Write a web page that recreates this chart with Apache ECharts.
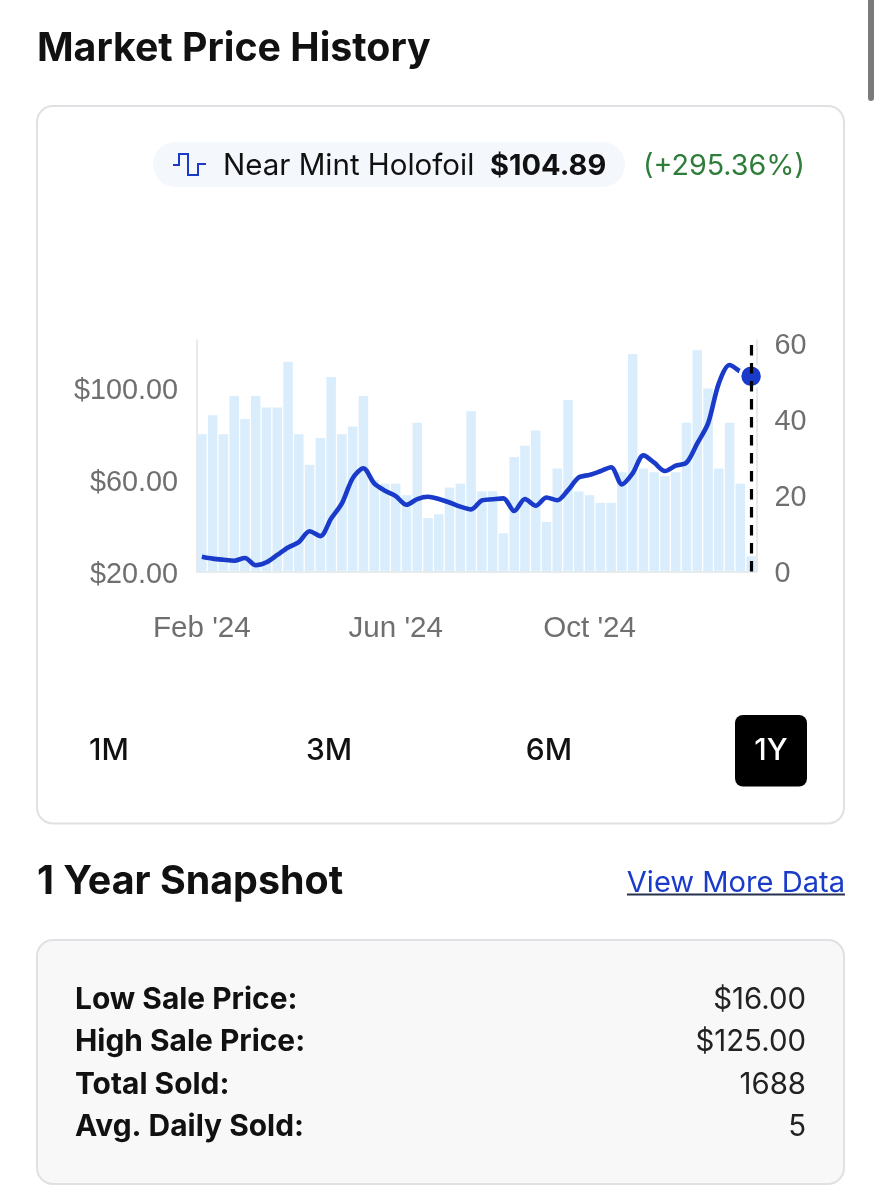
<!DOCTYPE html>
<html>
<head>
<meta charset="utf-8">
<style>html,body{margin:0;padding:0;background:#fff}#c{width:881px;height:1200px}</style>
<script src="https://cdn.jsdelivr.net/npm/echarts@6/dist/echarts.min.js"></script>
</head>
<body>
<div id="c"></div>
<script>
const weeks = [
"Feb '24","Feb '24","Feb '24","Feb '24","Feb '24","Mar '24","Mar '24","Mar '24","Mar '24",
"Apr '24","Apr '24","Apr '24","Apr '24","May '24","May '24","May '24","May '24","May '24",
"Jun '24","Jun '24","Jun '24","Jun '24","Jul '24","Jul '24","Jul '24","Jul '24",
"Aug '24","Aug '24","Aug '24","Aug '24","Aug '24","Sep '24","Sep '24","Sep '24","Sep '24","Oct '24",
"Oct '24","Oct '24","Oct '24","Oct '24","Nov '24","Nov '24","Nov '24","Nov '24",
"Dec '24","Dec '24","Dec '24","Dec '24","Jan '25","Jan '25","Jan '25","Jan '25"];
const sold = [36,41,36,46,40,46,43,43,55,36,28,35,51,36,38,46,24,23,23,20,39,14,15,22,23,42,
21,21,10,30,33,37,13,27,45,21,20,18,18,26,57,27,26,25,26,39,58,48,27,39,23,4];
const price = [26.4,25.6,25.1,24.7,25.9,22.7,24,27.2,30.4,32.8,37.5,35.4,43,49.6,60.5,64.9,58.3,55.1,52.8,49,51.5,52.5,51.5,50,48.2,47,
50.9,51.4,51.8,46.3,51.5,48.6,52.2,51,55.4,60.9,62,63.6,65.3,57.9,62.7,70.5,67.3,63.7,66,67.3,75.7,84.4,101.8,109.8,107,104.89];
const priceTicks = [20,60,100];
const soldTicks = [0,20,40,60];
const periods = ["1M","3M","6M","1Y"];
const statLabels = ["Low Sale Price:","High Sale Price:","Total Sold:","Avg. Daily Sold:"];
const statValues = ["$16.00","$125.00","1688","5"];

const UI = "Inter, 'Liberation Sans', sans-serif";
const AX = "'Liberation Sans', Arial, sans-serif";
const BLUE = "#1a3bc9", INK = "#111111", AXC = "#6f6f6f", EDGE = "#e1e1e5";
const lastIdx = price.length - 1;

function txt(x, y, text, size, weight, fill, align) {
  return {type:'text', x, y, silent:true, z:5, style:{text, fontFamily:UI, fontSize:size, fontWeight:weight, fill, align:align||'left', verticalAlign:'middle'}};
}
const graphics = [
  {type:'rect', shape:{x:868,y:-6,width:6,height:107,r:3}, style:{fill:'#7b7b7b'}},
  {type:'rect', z:-1, shape:{x:37,y:106,width:807,height:717.5,r:16}, style:{fill:'#fff',stroke:EDGE,lineWidth:2}},
  {type:'rect', z:-1, shape:{x:37,y:940,width:807,height:244,r:16}, style:{fill:'#f8f8f9',stroke:EDGE,lineWidth:2}},
  {type:'rect', z:-1, shape:{x:153,y:142,width:472,height:45,r:22.5}, style:{fill:'#f4f8fd'}},
  {type:'polyline', shape:{points:[[173,165],[179,165],[179,154],[188,154],[188,175],[198,175],[198,164],[206,164]]}, style:{stroke:BLUE,lineWidth:2,fill:null}},
  txt(37,49.5,"Market Price History",39.3,700,INK),
  txt(223,166,"Near Mint Holofoil",29.5,400,INK),
  txt(490,166,"$104.89",29,700,INK),
  txt(805,166,"(+295.36%)",28.7,400,'#2f7d3b','right'),
  {type:'rect', shape:{x:735,y:715,width:72,height:71.5,r:8}, style:{fill:'#000'}},
  txt(37,882,"1 Year Snapshot",39.4,700,INK),
  txt(845,883,"View More Data",29.1,400,BLUE,'right'),
  {type:'rect', shape:{x:627,y:893.5,width:218,height:2}, style:{fill:'#26304f'}}
];
[109,329,549,771].forEach((x,i)=>graphics.push(txt(x,751,periods[i],30,500,i===3?'#fff':INK,'center')));
[1000,1042,1085,1127].forEach((y,i)=>{
  graphics.push(txt(75,y,statLabels[i],29.9,700,INK));
  graphics.push(txt(806,y,statValues[i],29.4,400,'#222','right'));
});

const chart = echarts.init(document.getElementById('c'));
chart.setOption({
  animation:false,
  backgroundColor:'#fff',
  graphic:graphics,
  grid:{left:196.5,right:124.5,top:340,bottom:628.5,containLabel:false},
  xAxis:{type:'category',data:weeks,boundaryGap:true,
    axisLine:{show:true,lineStyle:{color:'#e3e3e3',width:1.5}},
    axisTick:{show:false},splitLine:{show:false},
    axisLabel:{interval:17,margin:42,fontFamily:AX,fontSize:29.6,color:AXC,hideOverlap:false}},
  yAxis:[
    {type:'value',position:'left',min:20,max:120.65,splitLine:{show:false},axisTick:{show:false},
     axisLine:{show:true,onZero:false,lineStyle:{color:'#e3e3e3',width:1.5}},
     axisLabel:{customValues:priceTicks,margin:18.5,fontFamily:AX,fontSize:28.8,color:AXC,verticalAlign:'top',lineHeight:7,formatter:v=>'$'+v.toFixed(2)}},
    {type:'value',position:'right',min:0,max:60.7,splitLine:{show:false},axisTick:{show:false},
     axisLine:{show:true,onZero:false,lineStyle:{color:'#e3e3e3',width:1.5}},
     axisLabel:{customValues:soldTicks,margin:18,fontFamily:AX,fontSize:28.8,color:AXC,verticalAlign:'top',lineHeight:6}}
  ],
  series:[
    {type:'bar',name:'Sold',yAxisIndex:1,data:sold,barCategoryGap:'12%',itemStyle:{color:'#d9edfc'},z:1,silent:true},
    {type:'line',name:'Near Mint Holofoil',yAxisIndex:0,data:price,smooth:0.3,showSymbol:false,lineStyle:{color:BLUE,width:4.6},z:2,silent:true},
    {type:'scatter',name:'Latest',yAxisIndex:0,data:[[lastIdx,price[lastIdx]]],symbolSize:22.5,
     itemStyle:{color:BLUE,borderColor:'#fff',borderWidth:3,opacity:1},z:3,silent:true,
     markLine:{silent:true,symbol:'none',label:{show:false},z:4,
       lineStyle:{color:'#000',type:[10.5,7.5],width:3.2,opacity:1},
       data:[{xAxis:lastIdx}]}}
  ]
});
</script>
</body>
</html>
